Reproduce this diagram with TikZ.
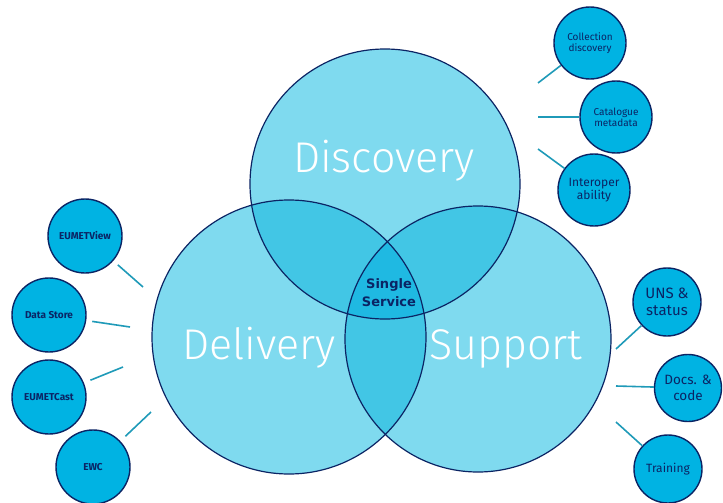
\documentclass[tikz,border=0pt]{standalone}
\usepackage{fontspec}
\setmainfont{Fira Sans}
\newfontfamily\lightfont{Fira Sans Light}
\newfontfamily\verdfont{DejaVu Sans}
\definecolor{lightblue}{HTML}{7FDAEF}
\definecolor{pairblue}{HTML}{42C6E5}
\definecolor{coreblue}{HTML}{1FB9E2}
\definecolor{topicblue}{HTML}{00B3E3}
\definecolor{navy}{HTML}{0B2464}
\definecolor{linkteal}{HTML}{1F9AB8}
\begin{document}
\begin{tikzpicture}[x=1pt,y=-1pt,
  bigtitle/.style={anchor=base,text=white,font=\lightfont\fontsize{43}{43}\selectfont,inner sep=0},
  topic/.style={circle,draw=navy,line width=1.4pt,fill=topicblue,text=navy,
    align=center,inner sep=0,minimum size=#1},
  topic/.default=72pt,
  link/.style={draw=linkteal,line width=1.6pt},
  ring/.style={draw=navy,line width=1.2pt}]
\useasboundingbox (0,0) rectangle (723,503);

% circle centres
\coordinate (Dc) at (385,184);
\coordinate (Lc) at (289,337);
\coordinate (Sc) at (478,339);
\def\rD{135pt}\def\rL{137pt}\def\rS{133pt}

% base fills
\fill[lightblue] (Dc) circle (\rD);
\fill[lightblue] (Lc) circle (\rL);
\fill[lightblue] (Sc) circle (\rS);
% pairwise overlaps
\begin{scope}
  \clip (Dc) circle (\rD);
  \fill[pairblue] (Lc) circle (\rL);
  \fill[pairblue] (Sc) circle (\rS);
\end{scope}
\begin{scope}
  \clip (Lc) circle (\rL);
  \fill[pairblue] (Sc) circle (\rS);
\end{scope}
% triple overlap
\begin{scope}
  \clip (Dc) circle (\rD);
  \clip (Lc) circle (\rL);
  \fill[coreblue] (Sc) circle (\rS);
\end{scope}
% outlines
\draw[ring] (Dc) circle (\rD);
\draw[ring] (Lc) circle (\rL);
\draw[ring] (Sc) circle (\rS);

% titles
\node[bigtitle] (tDisc) at (384,172) {Discovery};
\node[bigtitle] (tDel) at (259,359) {Delivery};
\node[bigtitle] (tSup) at (506,359) {Support};
\node[text=navy,align=center,inner sep=0,
  font=\verdfont\bfseries\fontsize{13}{18}\selectfont] (core) at (389,293) {Single\\Service};

% discovery topics
\node[topic,font=\fontsize{10}{11}\selectfont] (coll) at (590,43) {Collection\\discovery};
\node[topic,font=\fontsize{10}{11}\selectfont] (cat) at (616,117) {Catalogue\\metadata};
\node[topic,font=\fontsize{12}{13.5}\selectfont] (inter) at (594,190) {Interoper\\ability};
\coordinate (collE) at (538,83);
\coordinate (catE) at (538,117);
\coordinate (interE) at (538,149);
\draw[link] (collE) -- (coll);
\draw[link] (catE) -- (cat);
\draw[link] (interE) -- (inter);

% support topics
\node[topic=68pt,font=\fontsize{15}{17}\selectfont] (uns) at (667,302) {UNS \&\\status};
\node[topic=67pt,font=\fontsize{13.5}{15.5}\selectfont] (docs) at (688,388) {Docs. \&\\code};
\node[topic=68pt,font=\fontsize{12}{14}\selectfont] (train) at (668,469) {Training};
\coordinate (unsE) at (616,349);
\coordinate (docsE) at (616,386);
\coordinate (trainE) at (616,422);
\draw[link] (unsE) -- (uns);
\draw[link] (docsE) -- (docs);
\draw[link] (trainE) -- (train);

% delivery topics
\tikzset{deliv/.style={topic=74pt,font=\bfseries\fontsize{10}{12}\selectfont}}
\node[deliv] (view) at (85,236) {EUMETView};
\node[deliv] (store) at (49,315) {Data Store};
\node[deliv] (cast) at (49,397) {EUMETCast};
\node[deliv] (ewc) at (93,467) {EWC};
\coordinate (viewE) at (143,287);
\coordinate (storeE) at (130,327);
\coordinate (castE) at (123,367);
\coordinate (ewcE) at (151,412);
\draw[link,shorten >=6pt] (viewE) -- (view);
\draw[link,shorten >=6pt] (storeE) -- (store);
\draw[link,shorten >=7pt] (castE) -- (cast);
\draw[link,shorten >=7pt] (ewcE) -- (ewc);
\end{tikzpicture}
\end{document}
